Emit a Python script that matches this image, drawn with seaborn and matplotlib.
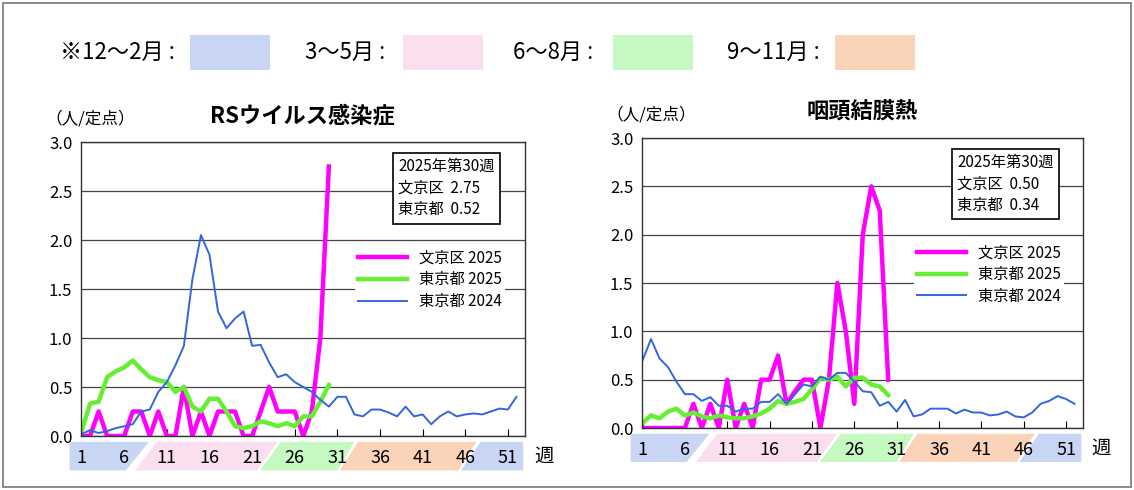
import numpy as np
import pandas as pd
import seaborn as sns
import matplotlib
matplotlib.use("Agg")
import matplotlib.pyplot as plt
from matplotlib.patches import Rectangle, Polygon
import matplotlib.transforms as mtransforms

plt.rcParams["font.family"] = "Noto Sans CJK JP"

weeks24 = list(range(1, 53))
weeks25 = list(range(1, 31))

rs_bunkyo_2025 = [0, 0, 0.25, 0, 0, 0, 0.25, 0.25, 0, 0.25, 0, 0, 0.5, 0, 0.25, 0, 0.25, 0.25, 0.25, 0,
                  0, 0.25, 0.5, 0.25, 0.25, 0.25, 0, 0.25, 1.0, 2.75]
rs_tokyo_2025 = [0.05, 0.33, 0.35, 0.6, 0.66, 0.7, 0.77, 0.68, 0.6, 0.57, 0.55, 0.45, 0.5, 0.3, 0.25, 0.38,
                 0.38, 0.25, 0.1, 0.08, 0.1, 0.15, 0.13, 0.1, 0.13, 0.1, 0.2, 0.2, 0.35, 0.52]
rs_tokyo_2024 = [0.02, 0.06, 0.03, 0.05, 0.08, 0.1, 0.12, 0.25, 0.27, 0.45, 0.55, 0.72, 0.92, 1.6, 2.05, 1.85,
                 1.27, 1.1, 1.2, 1.27, 0.92, 0.93, 0.75, 0.6, 0.63, 0.55, 0.5, 0.45, 0.37, 0.3, 0.4, 0.4,
                 0.22, 0.2, 0.27, 0.27, 0.24, 0.2, 0.3, 0.2, 0.22, 0.12, 0.2, 0.25, 0.2, 0.22, 0.23, 0.22,
                 0.25, 0.28, 0.27, 0.4]

pc_bunkyo_2025 = [0, 0, 0, 0, 0, 0, 0.25, 0, 0.25, 0, 0.5, 0, 0.25, 0, 0.5, 0.5, 0.75, 0.25, 0.38, 0.5,
                  0.5, 0, 0.5, 1.5, 1.0, 0.25, 2.0, 2.5, 2.25, 0.5]
pc_tokyo_2025 = [0.05, 0.13, 0.1, 0.17, 0.2, 0.13, 0.16, 0.12, 0.1, 0.13, 0.11, 0.1, 0.1, 0.12, 0.15, 0.2,
                 0.28, 0.25, 0.27, 0.3, 0.4, 0.52, 0.5, 0.53, 0.43, 0.52, 0.52, 0.45, 0.43, 0.34]
pc_tokyo_2024 = [0.7, 0.92, 0.72, 0.63, 0.48, 0.35, 0.35, 0.28, 0.32, 0.23, 0.23, 0.17, 0.2, 0.2, 0.27, 0.27,
                 0.35, 0.25, 0.35, 0.45, 0.43, 0.53, 0.5, 0.57, 0.57, 0.48, 0.38, 0.37, 0.23, 0.27, 0.17,
                 0.29, 0.12, 0.14, 0.2, 0.2, 0.2, 0.15, 0.19, 0.16, 0.16, 0.13, 0.14, 0.17, 0.12, 0.11,
                 0.16, 0.25, 0.28, 0.33, 0.3, 0.25]

titles = ["RSウイルス感染症", "咽頭結膜熱"]
info = [("2.75", "0.52"), ("0.50", "0.34")]
xtick_weeks = [1, 6, 11, 16, 21, 26, 31, 36, 41, 46, 51]
season_labels = ["※12～2月 :", "3～5月 :", "6～8月 :", "9～11月 :"]
season_colors = ["#c8d5f5", "#fbdfee", "#c6f8c2", "#fad3b8"]
line_labels = ["文京区 2025", "東京都 2025", "東京都 2024"]
line_colors = ["#ff00ff", "#66ee33", "#3366dd"]

W, H = 1134, 490
fig = plt.figure(figsize=(W / 100, H / 100), dpi=100)
fig.patches.append(Rectangle((3 / W, 3 / H), 1 - 6 / W, 1 - 6 / H, transform=fig.transFigure,
                             fill=False, ec="#777777", lw=1.2))

txt_x = [60, 305, 513, 727]
rect_x = [190, 403, 613, 835]
for lab, tx, rx, c in zip(season_labels, txt_x, rect_x, season_colors):
    fig.text(tx / W, 1 - 52 / H, lab, fontsize=16, va="center", ha="left")
    fig.patches.append(Rectangle((rx / W, 1 - 70 / H), 80 / W, 35 / H, transform=fig.transFigure,
                                 color=c, lw=0))

def px_axes(l, r, t, b):
    return fig.add_axes([l / W, 1 - b / H, (r - l) / W, (b - t) / H])

axes = [px_axes(80.7, 525, 142, 436), px_axes(641.7, 1083, 138, 428)]
datasets = [(rs_bunkyo_2025, rs_tokyo_2025, rs_tokyo_2024), (pc_bunkyo_2025, pc_tokyo_2025, pc_tokyo_2024)]

bands = [(-0.4, -0.4, 6.2, 8.9, 0), (7.3, 9.8, 21.6, 24.0, 1), (21.9, 24.4, 31.0, 33.0, 2),
         (31.3, 33.4, 45.2, 47.3, 3), (45.5, 47.8, 52.8, 52.8, 0)]

for ax, data, title, (v1, v2) in zip(axes, datasets, titles, info):
    for vals, weeks, lab, col, lw in zip(data, [weeks25, weeks25, weeks24], line_labels, line_colors,
                                         [3.2, 3.2, 1.4]):
        df = pd.DataFrame({"week": weeks, "value": vals})
        sns.lineplot(data=df, x="week", y="value", ax=ax, color=col, lw=lw, label=lab)
    ax.set_xlim(0.9, 53)
    ax.set_ylim(0, 3.0)
    ax.set_yticks(np.arange(0, 3.01, 0.5))
    ax.set_yticklabels([f"{v:.1f}" for v in np.arange(0, 3.01, 0.5)], fontsize=12)
    ax.yaxis.grid(True, color="#444444", lw=0.9)
    ax.set_axisbelow(True)
    ax.set_xticks(xtick_weeks)
    ax.set_xticklabels([str(w) for w in xtick_weeks], fontsize=13)
    ax.tick_params(axis="x", direction="in", length=5, pad=9)
    ax.tick_params(axis="y", direction="in", length=0, pad=6)
    ax.set_xlabel("")
    ax.set_ylabel("")
    for s in ax.spines.values():
        s.set_color("#333333")
        s.set_linewidth(1.0)
    trans = mtransforms.blended_transform_factory(ax.transData, ax.transAxes)
    yb, yt = -0.117, -0.02
    for xbl, xtl, xbr, xtr, ci in bands:
        ax.add_patch(Polygon([(xbl, yb), (xtl, yt), (xtr, yt), (xbr, yb)], closed=True,
                             transform=trans, clip_on=False, color=season_colors[ci], lw=0, zorder=0))
    ax.text(1.02, -0.07, "週", transform=ax.transAxes, fontsize=14, va="center", ha="left")
    ax.text(0.5, 1.05, title, transform=ax.transAxes, fontsize=16, fontweight="bold", ha="center", va="bottom")
    ax.text(-0.08, 1.05, "（人/定点）", transform=ax.transAxes, fontsize=12, ha="left", va="bottom")
    ax.text(0.715, 0.945, f"2025年第30週\n文京区  {v1}\n東京都  {v2}", transform=ax.transAxes, fontsize=11,
            va="top", ha="left", linespacing=1.35,
            bbox=dict(boxstyle="square,pad=0.35", fc="white", ec="black", lw=1.2))
    leg = ax.legend(loc="upper left", bbox_to_anchor=(0.6, 0.67), frameon=True, fontsize=11,
                    handlelength=3.2, borderpad=0.2, labelspacing=0.3, edgecolor="none", fancybox=False)
    leg.get_frame().set_facecolor("white")
    leg.get_frame().set_alpha(1)

fig.savefig("out.png", dpi=100)
